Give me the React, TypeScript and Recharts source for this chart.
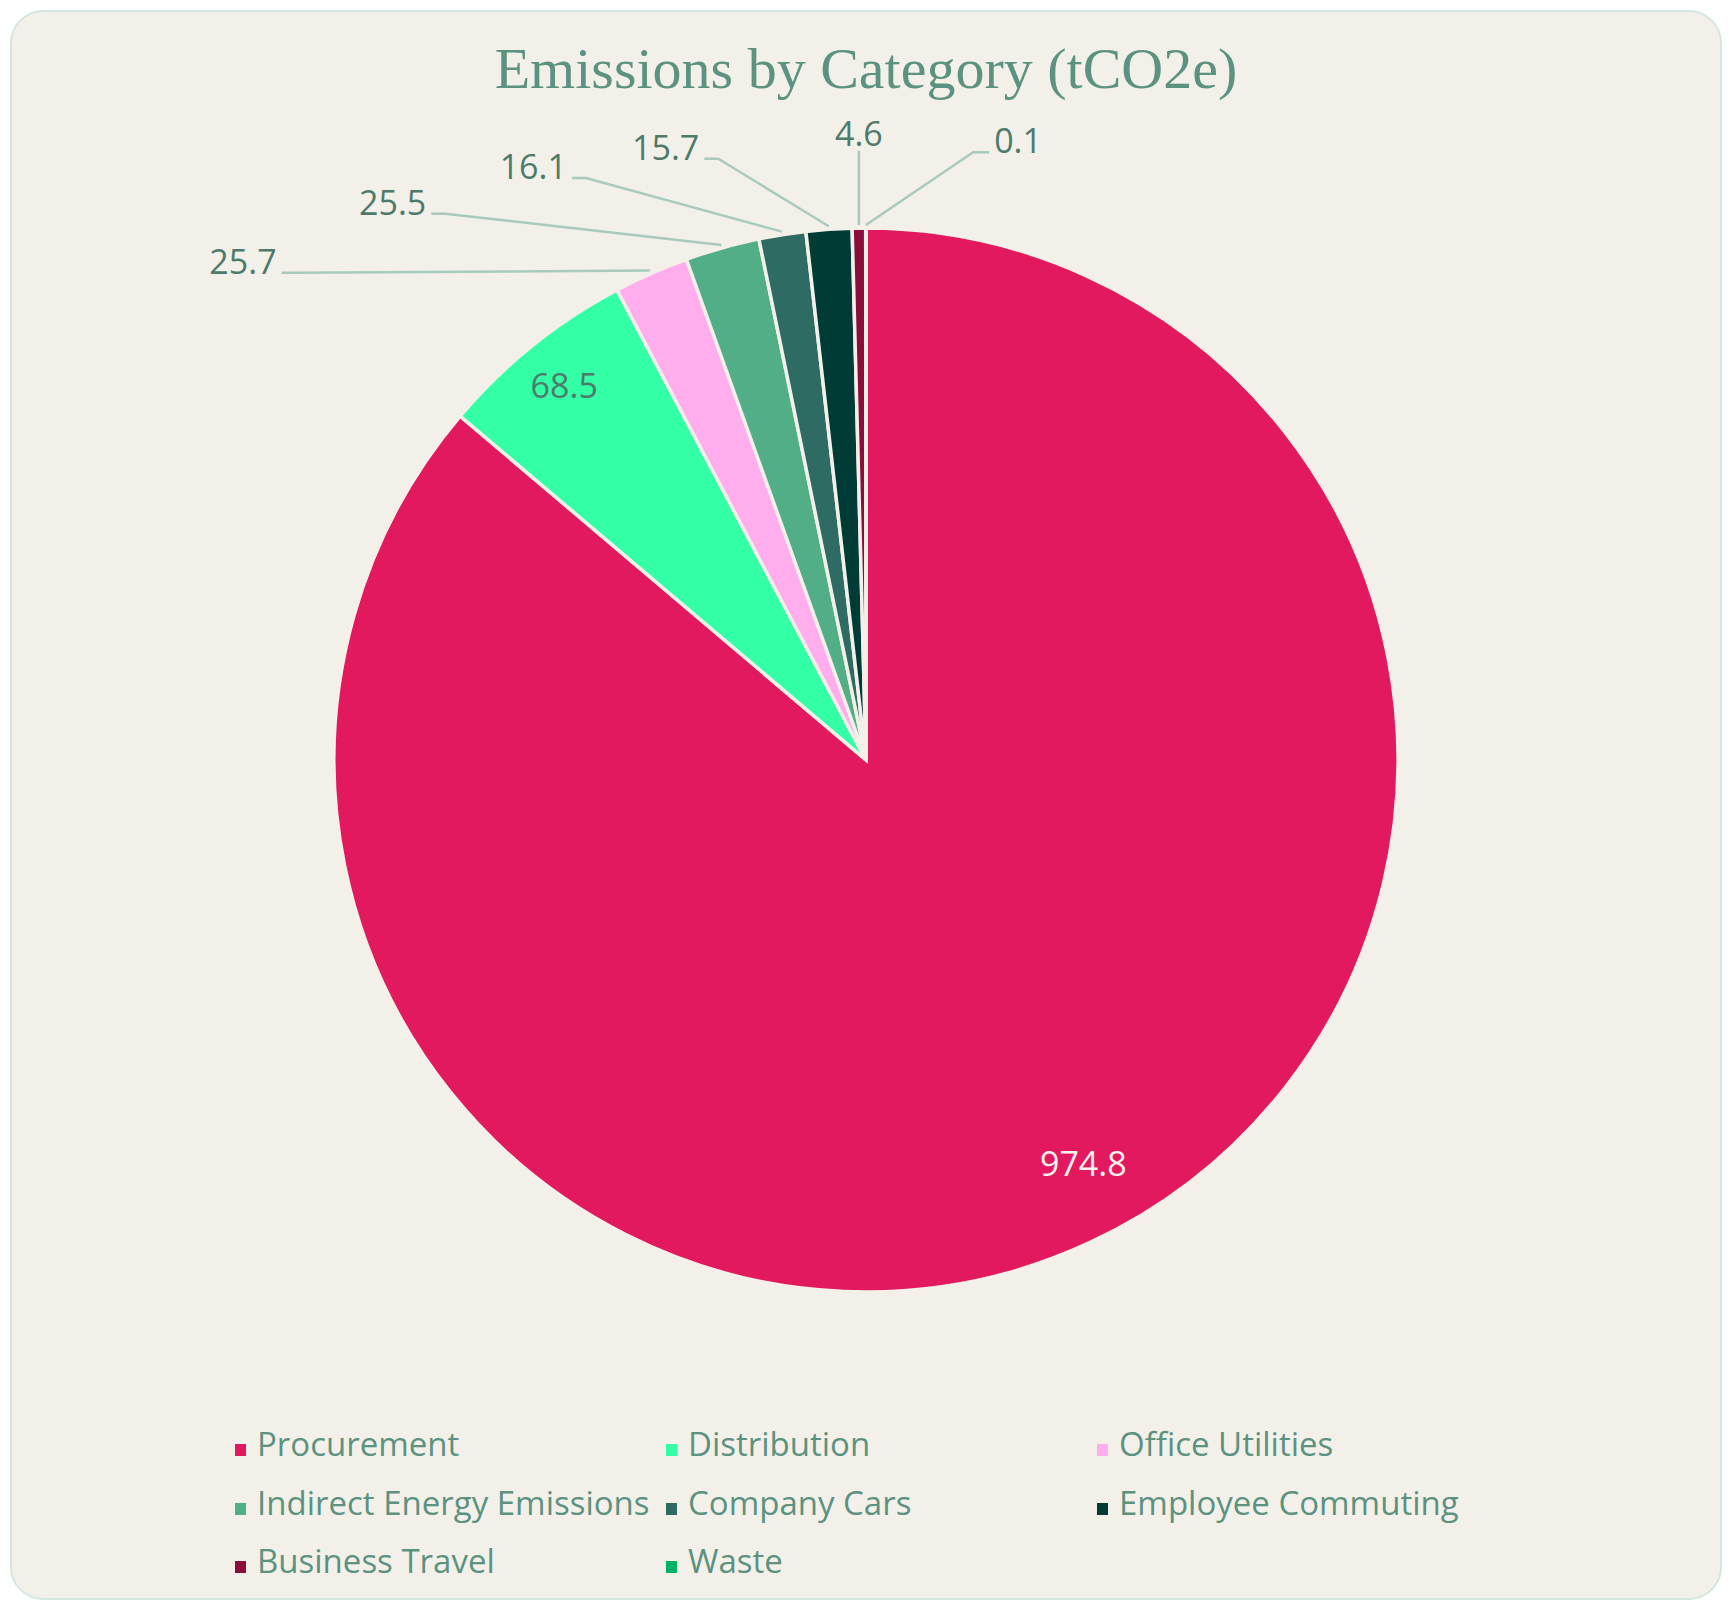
import React from 'react';
import { PieChart, Pie, Cell, Legend } from 'recharts';

const categories = [
  'Procurement',
  'Distribution',
  'Office Utilities',
  'Indirect Energy Emissions',
  'Company Cars',
  'Employee Commuting',
  'Business Travel',
  'Waste',
];
const emissions = [974.8, 68.5, 25.7, 25.5, 16.1, 15.7, 4.6, 0.1];
const colors = ['#E2195F', '#33FFA6', '#FFADEC', '#52AE86', '#2E6B62', '#003B36', '#8A0D3A', '#00B067'];
const chartTitle = 'Emissions by Category (tCO2e)';

const data = categories.map((name, i) => ({ name, value: emissions[i] }));

const W = 1708;
const H = 1586;
const CX = 854;
const CY = 748;
const R = 532;
const BG = '#F3F0E9';
const LABEL_COLOR = '#4E7A6A';
const TEXT_COLOR = '#5C9280';
const LINE_COLOR = '#A9CABF';
const FONT = '"Open Sans", sans-serif';
const RAD = Math.PI / 180;
const total = emissions.reduce((a, b) => a + b, 0);
const INSIDE_MIN = 0.05;
const outsideIdx = emissions.map((v, i) => (v / total < INSIDE_MIN ? i : -1)).filter((i) => i >= 0);

function renderLabel(props: any) {
  const { cx, cy, midAngle, outerRadius, value, name } = props;
  const index = typeof props.index === 'number' ? props.index : categories.indexOf(name);
  const share = value / total;
  const txt = Number(value).toFixed(1);
  if (share >= INSIDE_MIN) {
    const big = share > 0.5;
    const r = outerRadius * (big ? 0.86 : 0.905);
    const a = big ? midAngle + 3.5 : midAngle;
    const x = cx + r * Math.cos(-a * RAD);
    const y = cy + r * Math.sin(-a * RAD);
    return (
      <text
        x={x}
        y={y}
        textAnchor="middle"
        dominantBaseline="central"
        fill={index === 0 ? '#FBF1EC' : LABEL_COLOR}
        fontFamily={FONT}
        fontSize={34}
      >
        {txt}
      </text>
    );
  }
  const k = outsideIdx.length - 1 - outsideIdx.indexOf(index);
  const theta = 80 + 11.9 * k;
  const rr = outerRadius * (1.16 - 0.03 * k + 0.016 * k * k);
  const sx = cx + (outerRadius + 3) * Math.cos(-midAngle * RAD);
  const sy = cy + (outerRadius + 3) * Math.sin(-midAngle * RAD);
  let ex = cx + rr * Math.cos(theta * RAD);
  const ey = cy - rr * Math.sin(theta * RAD);
  let points = '';
  let tx = 0;
  let ty = ey + 1;
  let anchor: 'start' | 'middle' | 'end' = 'middle';
  if (Math.abs(theta - 90) < 4) {
    ex = sx;
    points = `${sx},${sy} ${ex},${ey}`;
    tx = ex;
    ty = ey - 5;
    anchor = 'middle';
  } else if (theta > 90) {
    const hx = ex - 14;
    points = `${sx},${sy} ${ex},${ey} ${hx},${ey}`;
    tx = hx - 5;
    anchor = 'end';
  } else {
    const hx = ex + 16;
    points = `${sx},${sy} ${ex},${ey} ${hx},${ey}`;
    tx = hx + 5;
    anchor = 'start';
  }
  return (
    <g>
      <polyline points={points} fill="none" stroke={LINE_COLOR} strokeWidth={2.5} />
      <text x={tx} y={ty} textAnchor={anchor} fill={LABEL_COLOR} fontFamily={FONT} fontSize={34}>
        {txt}
      </text>
    </g>
  );
}

const LEGEND_TOP = 1403;
const LEGEND_LEFT = 223;
const LEGEND_COL_W = 431;
const LEGEND_ROW_H = 58.5;

function LegendContent() {
  return (
    <div style={{ position: 'relative', width: W, height: 190 }}>
      {categories.map((c, i) => {
        const col = i % 3;
        const row = Math.floor(i / 3);
        return (
          <div
            key={c}
            style={{
              position: 'absolute',
              left: LEGEND_LEFT + col * LEGEND_COL_W,
              top: row * LEGEND_ROW_H,
              height: 58,
              lineHeight: '58px',
              whiteSpace: 'nowrap',
              fontFamily: FONT,
              fontSize: 33,
              color: TEXT_COLOR,
            }}
          >
            <span
              style={{
                display: 'inline-block',
                width: 11,
                height: 12,
                background: colors[i],
                marginRight: 11,
              }}
            />
            {c}
          </div>
        );
      })}
    </div>
  );
}

export default function App() {
  return (
    <div
      style={{
        position: 'absolute',
        left: 10,
        top: 10,
        width: 1712,
        height: 1590,
        boxSizing: 'border-box',
        border: '2px solid #D4E6E0',
        borderRadius: 33,
        background: BG,
      }}
    >
      <div
        style={{
          position: 'absolute',
          left: 0,
          top: 27,
          width: W,
          textAlign: 'center',
          fontFamily: '"Liberation Serif", serif',
          fontSize: 58,
          lineHeight: '60px',
          color: TEXT_COLOR,
        }}
      >
        {chartTitle}
      </div>
      <div style={{ position: 'absolute', left: 0, top: 0 }}>
        <PieChart width={W} height={H} margin={{ top: 0, right: 0, bottom: 0, left: 0 }}>
          <Pie
            data={data}
            dataKey="value"
            nameKey="name"
            cx={CX}
            cy={CY}
            outerRadius={R}
            startAngle={90}
            endAngle={-270}
            stroke={BG}
            strokeWidth={3.5}
            isAnimationActive={false}
            label={renderLabel}
            labelLine={false}
          >
            {data.map((d, i) => (
              <Cell key={d.name} fill={colors[i]} />
            ))}
          </Pie>
          <Legend
            content={() => <LegendContent />}
            wrapperStyle={{ position: 'absolute', left: 0, top: LEGEND_TOP, width: W, height: 190 }}
          />
        </PieChart>
      </div>
    </div>
  );
}
